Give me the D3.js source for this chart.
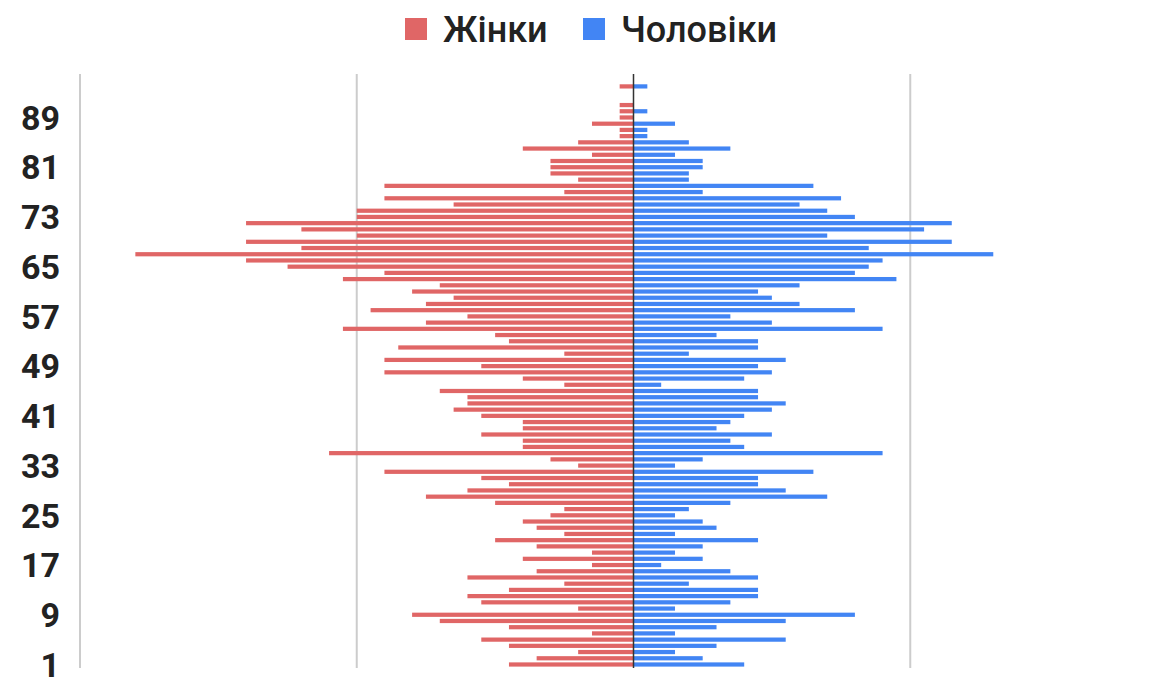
<!DOCTYPE html>
<meta charset="utf-8">
<head>
<style>
body { margin: 0; background: #fff; }
.tick-label { font: bold 34px Roboto, Arial, sans-serif; fill: #222; }
.legend-text { font: 500 36px Roboto, Arial, sans-serif; fill: #222; }
</style>
</head>
<body>
<div id="chart"></div>
<script src="https://d3js.org/d3.v7.min.js"></script>
<script>

// ages from 1 to 94
var ages = d3.range(1, 95);

// women, by age (1..94)
var women = [9, 7, 4, 9, 11, 3, 9, 14, 16, 4,
             11, 12, 9, 5, 12, 7, 3, 8, 3, 7,
             10, 5, 7, 8, 6, 5, 10, 15, 12, 9,
             11, 18, 4, 6, 22, 8, 8, 11, 8, 8,
             11, 13, 12, 12, 14, 5, 8, 18, 11, 18,
             5, 17, 9, 10, 21, 15, 12, 19, 15, 13,
             16, 14, 21, 18, 25, 28, 36, 24, 28, 20,
             24, 28, 20, 20, 13, 18, 5, 18, 4, 6,
             6, 6, 3, 8, 4, 1, 1, 3, 1, 1,
             1, 0, 0, 1];

// men, by age (1..94)
var men = [8, 5, 3, 6, 11, 3, 6, 11, 16, 3,
           7, 9, 9, 4, 9, 7, 2, 5, 3, 5,
           9, 3, 6, 5, 3, 4, 7, 14, 11, 9,
           9, 13, 3, 5, 18, 8, 7, 10, 6, 7,
           8, 10, 11, 9, 9, 2, 8, 10, 9, 11,
           4, 9, 9, 6, 18, 10, 7, 16, 12, 10,
           9, 12, 19, 16, 17, 18, 26, 17, 23, 14,
           21, 23, 16, 14, 12, 15, 5, 13, 4, 4,
           5, 5, 3, 7, 4, 1, 1, 3, 0, 1,
           0, 0, 0, 1];

var tickAges = [1, 9, 17, 25, 33, 41, 49, 57, 65, 73, 81, 89];
var gridValues = [-40, -20, 20, 40];

var seriesNames = ["Жінки", "Чоловіки"];
var colors = ["#e06666", "#4285f4"];

var width = 1176, height = 679;
var plotTop = 74, plotBottom = 668;

var svg = d3.select("#chart")
  .append("svg")
    .attr("width", width)
    .attr("height", height);

var x = d3.scaleLinear()
  .domain([-40, 40])
  .range([80, 1187]);

var y = d3.scaleBand()
  .domain(ages)
  .range([667.6, 667.6 - ages.length * 6.216])
  .paddingInner(0.32)
  .paddingOuter(0.16);

// gridlines
svg.append("g")
  .selectAll("line")
  .data(gridValues)
  .enter()
  .append("line")
    .attr("x1", function(d) { return x(d); })
    .attr("x2", function(d) { return x(d); })
    .attr("y1", plotTop)
    .attr("y2", plotBottom)
    .attr("stroke", "#cccccc")
    .attr("stroke-width", 2);

var rows = ages.map(function(a, i) {
  return {age: a, women: women[i], men: men[i]};
});

// women to the left
svg.append("g")
  .selectAll("rect")
  .data(rows)
  .enter()
  .append("rect")
    .attr("x", function(d) { return x(-d.women); })
    .attr("y", function(d) { return y(d.age); })
    .attr("width", function(d) { return x(0) - x(-d.women); })
    .attr("height", y.bandwidth())
    .attr("fill", colors[0]);

// men to the right
svg.append("g")
  .selectAll("rect")
  .data(rows)
  .enter()
  .append("rect")
    .attr("x", x(0))
    .attr("y", function(d) { return y(d.age); })
    .attr("width", function(d) { return x(d.men) - x(0); })
    .attr("height", y.bandwidth())
    .attr("fill", colors[1]);

// zero line
svg.append("line")
  .attr("x1", x(0)).attr("x2", x(0))
  .attr("y1", plotTop).attr("y2", plotBottom)
  .attr("stroke", "#333")
  .attr("stroke-width", 1.5);

// age labels
svg.append("g")
  .selectAll("text")
  .data(tickAges)
  .enter()
  .append("text")
    .attr("class", "tick-label")
    .attr("x", 60)
    .attr("y", function(d) { return y(d) + y.bandwidth() / 2; })
    .attr("dy", "0.36em")
    .attr("text-anchor", "end")
    .text(function(d) { return d; });

// legend
var legendX = [405, 583];
var legend = svg.append("g")
  .selectAll("g")
  .data(seriesNames)
  .enter()
  .append("g")
    .attr("transform", function(d, i) { return "translate(" + legendX[i] + ",18)"; });

legend.append("rect")
  .attr("width", 22)
  .attr("height", 22)
  .attr("fill", function(d, i) { return colors[i]; });

legend.append("text")
  .attr("class", "legend-text")
  .attr("x", 38)
  .attr("y", 11)
  .attr("dy", "0.36em")
  .text(function(d) { return d; });

</script>
</body>
</html>
